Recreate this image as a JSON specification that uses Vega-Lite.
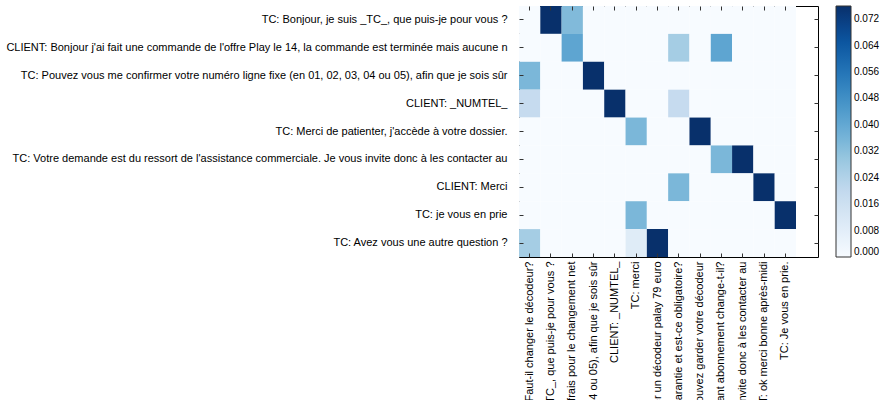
{
  "$schema": "https://vega.github.io/schema/vega-lite/v6.json",
  "autosize": "none",
  "width": 299,
  "height": 251,
  "padding": {"left": 519, "top": 6, "right": 63, "bottom": 143},
  "background": "white",
  "config": {
    "font": "Liberation Sans",
    "view": {"stroke": "black", "strokeWidth": 1},
    "axis": {"labelFont": "Liberation Sans", "labelFontSize": 11, "labelColor": "black", "tickColor": "#333", "title": null, "domain": false, "grid": false}
  },
  "datasets": {
    "rows": [
      {"r": 0, "yl": "TC: Bonjour, je suis _TC_, que puis-je pour vous ?"},
      {"r": 1, "yl": "CLIENT: Bonjour j'ai fait une commande de l'offre Play le 14, la commande est terminée mais aucune n"},
      {"r": 2, "yl": "TC: Pouvez vous me confirmer votre numéro ligne fixe (en 01, 02, 03, 04 ou 05), afin que je sois sûr"},
      {"r": 3, "yl": "CLIENT: _NUMTEL_"},
      {"r": 4, "yl": "TC: Merci de patienter, j'accède à votre dossier."},
      {"r": 5, "yl": "TC: Votre demande est du ressort de l'assistance commerciale. Je vous invite donc à les contacter au"},
      {"r": 6, "yl": "CLIENT: Merci"},
      {"r": 7, "yl": "TC: je vous en prie"},
      {"r": 8, "yl": "TC: Avez vous une autre question ?"}
    ],
    "cols": [
      {"c": 0, "xl": "CLIENT: Bonjour, Faut-il changer le décodeur?"},
      {"c": 1, "xl": "TC: Bonjour, je suis _TC_, que puis-je pour vous ?"},
      {"c": 2, "xl": "CLIENT: Y a-t-il des frais pour le changement net"},
      {"c": 3, "xl": "TC: Pouvez vous me confirmer votre numéro ligne fixe (en 01, 02, 03, 04 ou 05), afin que je sois sûr"},
      {"c": 4, "xl": "CLIENT: _NUMTEL_"},
      {"c": 5, "xl": "TC: merci"},
      {"c": 6, "xl": "TC: Vous pouvez acheter un décodeur palay 79 euro"},
      {"c": 7, "xl": "CLIENT: Est-il sous garantie et est-ce obligatoire?"},
      {"c": 8, "xl": "TC: Vous pouvez garder votre décodeur"},
      {"c": 9, "xl": "CLIENT: Le montant abonnement change-t-il?"},
      {"c": 10, "xl": "TC: Votre demande est du ressort de l'assistance commerciale. Je vous invite donc à les contacter au"},
      {"c": 11, "xl": "CLIENT: ok merci bonne après-midi"},
      {"c": 12, "xl": "TC: Je vous en prie."}
    ],
    "cells": [
      {"r":0,"c":0,"v":0},{"r":0,"c":1,"v":0.076},{"r":0,"c":2,"v":0.034},{"r":0,"c":3,"v":0},{"r":0,"c":4,"v":0},{"r":0,"c":5,"v":0},{"r":0,"c":6,"v":0},{"r":0,"c":7,"v":0},{"r":0,"c":8,"v":0},{"r":0,"c":9,"v":0},{"r":0,"c":10,"v":0},{"r":0,"c":11,"v":0},{"r":0,"c":12,"v":0},
      {"r":1,"c":0,"v":0},{"r":1,"c":1,"v":0},{"r":1,"c":2,"v":0.041},{"r":1,"c":3,"v":0},{"r":1,"c":4,"v":0},{"r":1,"c":5,"v":0},{"r":1,"c":6,"v":0},{"r":1,"c":7,"v":0.027},{"r":1,"c":8,"v":0},{"r":1,"c":9,"v":0.041},{"r":1,"c":10,"v":0},{"r":1,"c":11,"v":0},{"r":1,"c":12,"v":0},
      {"r":2,"c":0,"v":0.035},{"r":2,"c":1,"v":0},{"r":2,"c":2,"v":0},{"r":2,"c":3,"v":0.076},{"r":2,"c":4,"v":0},{"r":2,"c":5,"v":0},{"r":2,"c":6,"v":0},{"r":2,"c":7,"v":0},{"r":2,"c":8,"v":0},{"r":2,"c":9,"v":0},{"r":2,"c":10,"v":0},{"r":2,"c":11,"v":0},{"r":2,"c":12,"v":0},
      {"r":3,"c":0,"v":0.019},{"r":3,"c":1,"v":0},{"r":3,"c":2,"v":0},{"r":3,"c":3,"v":0},{"r":3,"c":4,"v":0.076},{"r":3,"c":5,"v":0},{"r":3,"c":6,"v":0},{"r":3,"c":7,"v":0.019},{"r":3,"c":8,"v":0},{"r":3,"c":9,"v":0},{"r":3,"c":10,"v":0},{"r":3,"c":11,"v":0},{"r":3,"c":12,"v":0},
      {"r":4,"c":0,"v":0},{"r":4,"c":1,"v":0},{"r":4,"c":2,"v":0},{"r":4,"c":3,"v":0},{"r":4,"c":4,"v":0},{"r":4,"c":5,"v":0.035},{"r":4,"c":6,"v":0},{"r":4,"c":7,"v":0},{"r":4,"c":8,"v":0.076},{"r":4,"c":9,"v":0},{"r":4,"c":10,"v":0},{"r":4,"c":11,"v":0},{"r":4,"c":12,"v":0},
      {"r":5,"c":0,"v":0},{"r":5,"c":1,"v":0},{"r":5,"c":2,"v":0},{"r":5,"c":3,"v":0},{"r":5,"c":4,"v":0},{"r":5,"c":5,"v":0},{"r":5,"c":6,"v":0},{"r":5,"c":7,"v":0},{"r":5,"c":8,"v":0},{"r":5,"c":9,"v":0.035},{"r":5,"c":10,"v":0.076},{"r":5,"c":11,"v":0},{"r":5,"c":12,"v":0},
      {"r":6,"c":0,"v":0},{"r":6,"c":1,"v":0},{"r":6,"c":2,"v":0},{"r":6,"c":3,"v":0},{"r":6,"c":4,"v":0},{"r":6,"c":5,"v":0},{"r":6,"c":6,"v":0},{"r":6,"c":7,"v":0.035},{"r":6,"c":8,"v":0},{"r":6,"c":9,"v":0},{"r":6,"c":10,"v":0},{"r":6,"c":11,"v":0.076},{"r":6,"c":12,"v":0},
      {"r":7,"c":0,"v":0},{"r":7,"c":1,"v":0},{"r":7,"c":2,"v":0},{"r":7,"c":3,"v":0},{"r":7,"c":4,"v":0},{"r":7,"c":5,"v":0.035},{"r":7,"c":6,"v":0},{"r":7,"c":7,"v":0},{"r":7,"c":8,"v":0},{"r":7,"c":9,"v":0},{"r":7,"c":10,"v":0},{"r":7,"c":11,"v":0},{"r":7,"c":12,"v":0.076},
      {"r":8,"c":0,"v":0.027},{"r":8,"c":1,"v":0},{"r":8,"c":2,"v":0},{"r":8,"c":3,"v":0},{"r":8,"c":4,"v":0},{"r":8,"c":5,"v":0.009},{"r":8,"c":6,"v":0.076},{"r":8,"c":7,"v":0},{"r":8,"c":8,"v":0},{"r":8,"c":9,"v":0},{"r":8,"c":10,"v":0},{"r":8,"c":11,"v":0},{"r":8,"c":12,"v":0}
    ]
  },
  "data": {"name": "cells"},
  "transform": [
    {"lookup": "r", "from": {"data": {"name": "rows"}, "key": "r", "fields": ["yl"]}},
    {"lookup": "c", "from": {"data": {"name": "cols"}, "key": "c", "fields": ["xl"]}}
  ],
  "layer": [
    {
      "mark": {"type": "rect"},
      "encoding": {
        "x": {"field": "xl", "type": "ordinal", "sort": {"field": "c", "op": "min"},
              "scale": {"range": [0, 277], "paddingInner": 0, "paddingOuter": 0},
              "axis": {"orient": "bottom", "labelAngle": -90, "labelLimit": 0, "tickSize": -4, "labelPadding": 8, "labelAlign": "right", "labelBaseline": "middle"}},
        "y": {"field": "yl", "type": "ordinal", "sort": {"field": "r", "op": "min"},
              "scale": {"paddingInner": 0, "paddingOuter": 0},
              "axis": {"orient": "left", "labelLimit": 0, "tickSize": -4, "labelPadding": 16}},
        "color": {"field": "v", "type": "quantitative",
                  "scale": {"type": "linear", "domain": [0, 0.0095, 0.019, 0.0285, 0.038, 0.0475, 0.057, 0.0665, 0.076],
                            "range": ["#f7fbff", "#deebf7", "#c6dbef", "#9ecae1", "#6baed6", "#4292c6", "#2171b5", "#08519c", "#08306b"]},
                  "legend": {"title": null, "orient": "right", "offset": 17, "padding": 0, "gradientLength": 251, "gradientThickness": 15,
                             "gradientStrokeColor": "#333", "gradientStrokeWidth": 1, "labelFontSize": 10, "labelFont": "Liberation Sans", "labelColor": "black",
                             "labelOffset": 3, "format": ".3f",
                             "values": [0, 0.008, 0.016, 0.024, 0.032, 0.04, 0.048, 0.056, 0.064, 0.072]}}
      }
    },
    {
      "mark": {"type": "rect", "opacity": 0},
      "encoding": {
        "x": {"field": "xl", "type": "ordinal", "sort": {"field": "c", "op": "min"},
              "axis": {"orient": "top", "labels": false, "tickSize": -4}},
        "y": {"field": "yl", "type": "ordinal", "sort": {"field": "r", "op": "min"},
              "axis": {"orient": "right", "labels": false, "tickSize": -4}}
      }
    }
  ],
  "resolve": {"axis": {"x": "independent", "y": "independent"}}
}
